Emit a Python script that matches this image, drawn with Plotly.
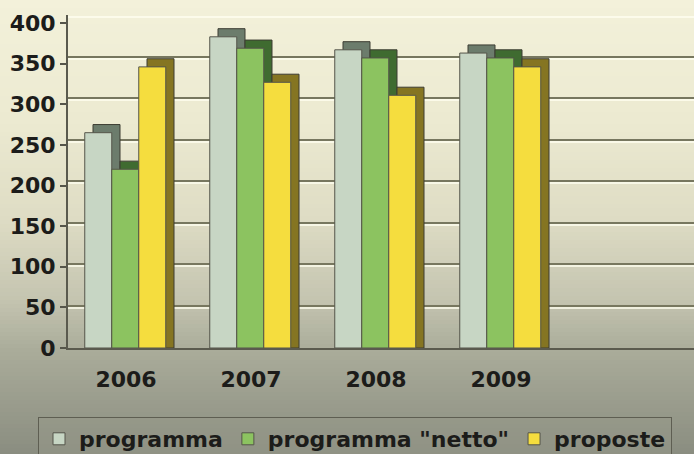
import plotly.graph_objects as go

# ---------------- data ----------------
years = ["2006", "2007", "2008", "2009"]
programma = [265, 383, 367, 363]
programma_netto = [220, 369, 357, 357]
proposte = [346, 327, 311, 346]
y_ticks = [0, 50, 100, 150, 200, 250, 300, 350, 400]

series_names = ["programma", 'programma "netto"', "proposte"]
front_colors = ["#c7d6c4", "#8cc360", "#f5dd3e"]
side_colors = ["#6c7c6c", "#3f6b30", "#857522"]

# ---------------- layout constants ----------------
W, H = 694, 454
L, R, T, B = 68, 0, 15, 106
plot_h = H - T - B
plot_w = W - L - R
bar_w = 0.216
offsets = [-0.33, -0.114, 0.102]
depth_x = 0.066
depth_y = 10

xs = list(range(len(years)))
fig = go.Figure()

all_series = [programma, programma_netto, proposte]
for name, vals, fc, sc, off in zip(series_names, all_series, front_colors, side_colors, offsets):
    # 3D depth (side + top face)
    fig.add_trace(go.Bar(
        x=xs, y=[v + depth_y for v in vals], base=0,
        offset=off + depth_x, width=bar_w,
        marker=dict(color=sc, line=dict(color="#3c3c32", width=1)),
        showlegend=False, hoverinfo="skip",
    ))
    # front face
    fig.add_trace(go.Bar(
        x=xs, y=vals, name=name,
        offset=off, width=bar_w,
        marker=dict(color=fc, line=dict(color="#55554a", width=1)),
    ))

# dummy traces for back-wall gridline axes
fig.add_trace(go.Scatter(x=[None], y=[None], yaxis="y2", showlegend=False, hoverinfo="skip"))
fig.add_trace(go.Scatter(x=[None], y=[None], yaxis="y3", showlegend=False, hoverinfo="skip"))

# background gradient (decoration)
stops = [
    (0, (243, 241, 218)),
    (120, (236, 234, 209)),
    (220, (222, 220, 196)),
    (300, (196, 196, 176)),
    (350, (170, 172, 154)),
    (454, (138, 141, 128)),
]

def col_at(py):
    for (y0, c0), (y1, c1) in zip(stops[:-1], stops[1:]):
        if y0 <= py <= y1:
            t = (py - y0) / (y1 - y0)
            return "rgb(%d,%d,%d)" % tuple(round(a + (b - a) * t) for a, b in zip(c0, c1))
    return "rgb(%d,%d,%d)" % stops[-1][1]

def py_to_paper(py):
    return (H - B - py) / plot_h

def px_to_paper(px):
    return (px - L) / plot_w

shapes = []
step = 4
for py in range(0, H, step):
    shapes.append(dict(
        type="rect", xref="paper", yref="paper", layer="below",
        x0=px_to_paper(0), x1=px_to_paper(W) + 0.01,
        y0=py_to_paper(py + step + 0.5), y1=py_to_paper(py),
        fillcolor=col_at(py + step / 2), line=dict(width=0),
    ))

font_b = dict(family="DejaVu Sans", size=22, color="#1c1c1a", weight="bold")

fig.update_layout(
    width=W, height=H,
    margin=dict(l=L, r=R, t=T, b=B, autoexpand=False),
    paper_bgcolor="#c8c7b2",
    plot_bgcolor="rgba(0,0,0,0)",
    barmode="overlay",
    shapes=shapes,
    showlegend=True,
    legend=dict(
        orientation="h",
        xref="paper", yref="paper",
        x=px_to_paper(38), y=py_to_paper(417), xanchor="left", yanchor="top",
        font=font_b,
        bgcolor="rgba(150,152,138,0.45)",
        bordercolor="#5e5e52", borderwidth=1,
        traceorder="normal",
        itemclick=False,
    ),
    xaxis=dict(
        range=[-0.464, 4.544],
        tickvals=xs, ticktext=years,
        tickfont=font_b,
        ticks="", ticklabelstandoff=11,
        showgrid=False, zeroline=False,
        showline=True, linecolor="#5a5a4e", linewidth=2,
    ),
    yaxis=dict(
        range=[0, plot_h / 0.8125],
        tickvals=y_ticks,
        tickfont=font_b,
        ticks="outside", ticklen=6, tickcolor="#55554a", tickwidth=2,
        showgrid=False, zeroline=False,
        showline=True, linecolor="#5a5a4e", linewidth=2,
    ),
    yaxis2=dict(
        overlaying="y", side="left",
        range=[-1.2, 400],
        tickvals=y_ticks,
        showticklabels=False, ticks="",
        showgrid=True, gridcolor="#77775f", gridwidth=2,
        zeroline=False, showline=False,
    ),
    yaxis3=dict(
        overlaying="y", side="left",
        range=[1.8, 403],
        tickvals=y_ticks,
        showticklabels=False, ticks="",
        showgrid=True, gridcolor="rgba(255,255,240,0.75)", gridwidth=1.5,
        zeroline=False, showline=False,
    ),
)

fig.write_html("out.html")
